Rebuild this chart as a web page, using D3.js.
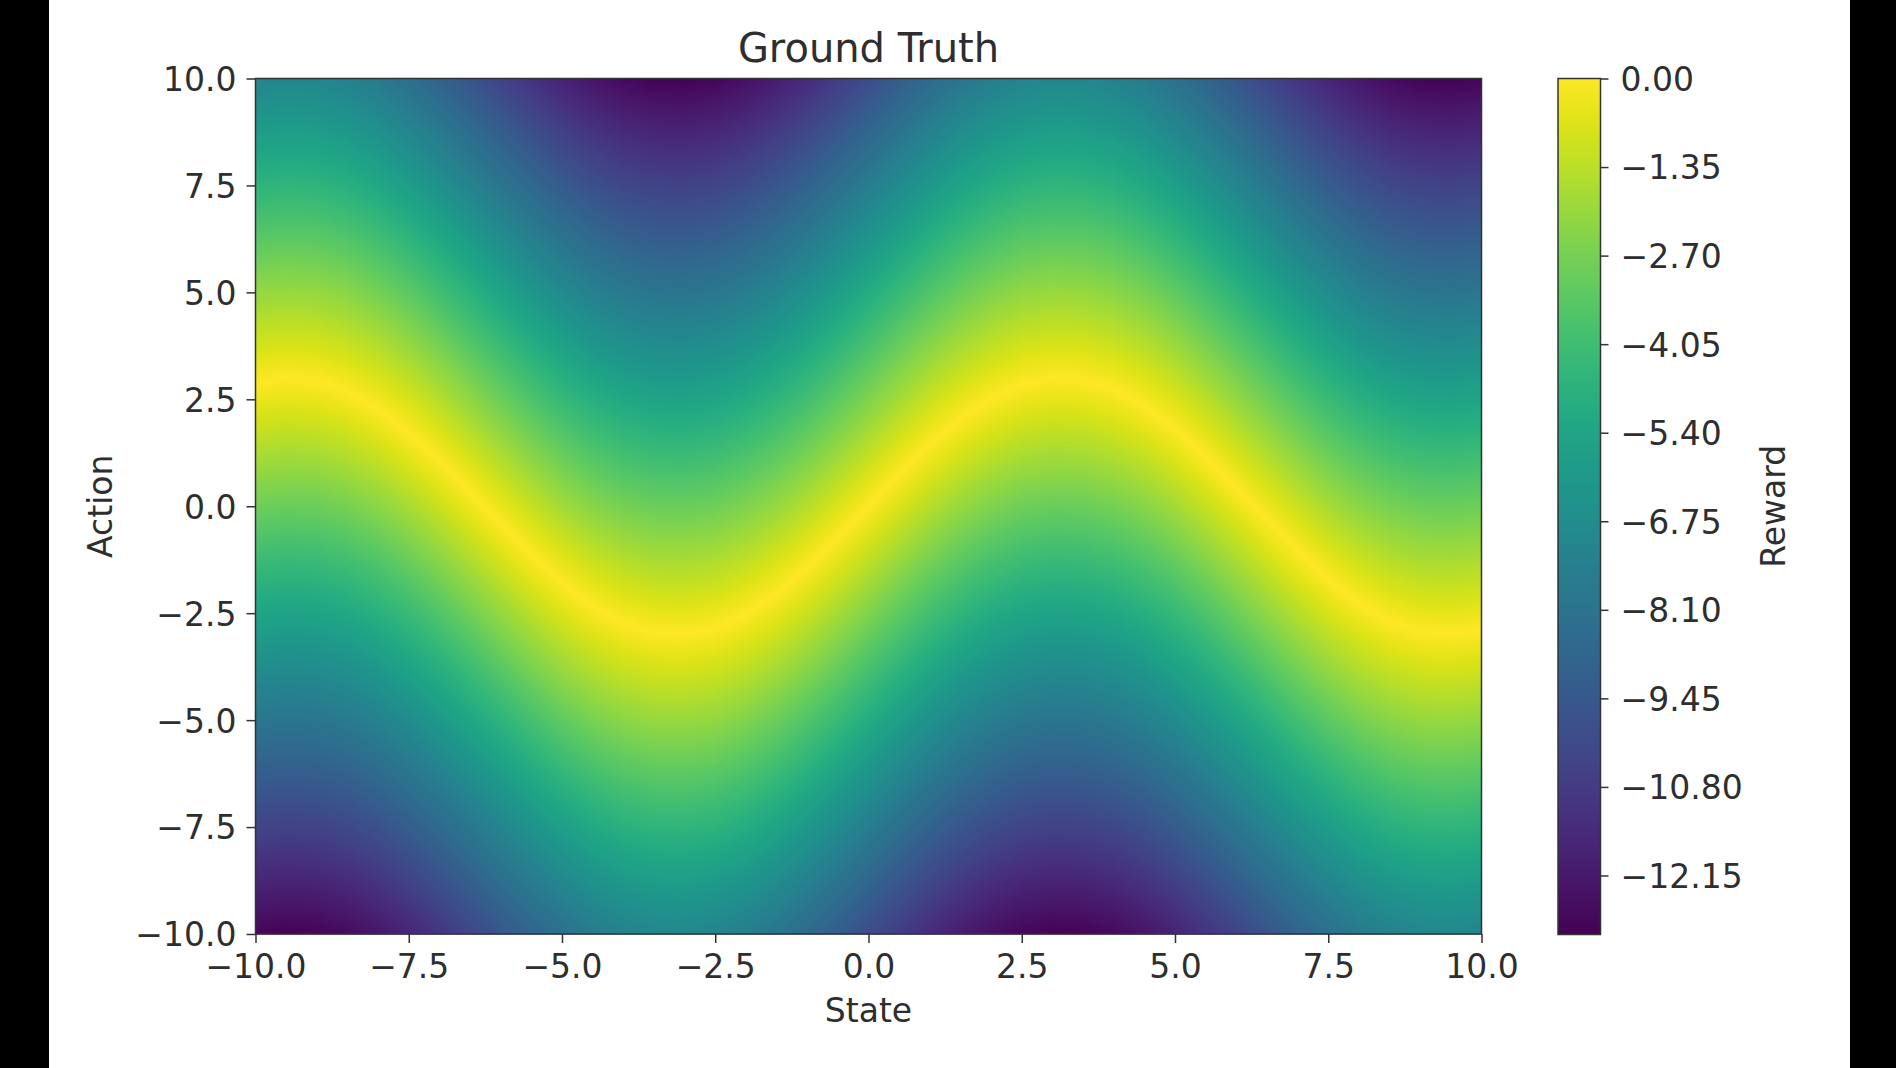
<!DOCTYPE html>
<html>
<head>
<meta charset="utf-8">
<script src="https://cdn.jsdelivr.net/npm/d3@7"></script>
<style>
  html, body { margin: 0; padding: 0; background: #000; }
  svg { display: block; }
  text { font-family: "DejaVu Sans", sans-serif; fill: #2e2e2e; }
</style>
</head>
<body>
<svg id="chart" width="1896" height="1068"></svg>
<script>
// ---- data ----
const title = "Ground Truth";
const xLabel = "State";
const yLabel = "Action";
const cbLabel = "Reward";
const xTicks = [-10, -7.5, -5, -2.5, 0, 2.5, 5, 7.5, 10];
const yTicks = [-10, -7.5, -5, -2.5, 0, 2.5, 5, 7.5, 10];
const cbTicks = [0, -1.35, -2.70, -4.05, -5.40, -6.75, -8.10, -9.45, -10.80, -12.15];
const rewardRange = [-13.05, 0];
// states sampled every 0.5 and the action of the best (yellow) ridge at each
const ridgeStates = [-10,-9.5,-9,-8.5,-8,-7.5,-7,-6.5,-6,-5.5,-5,-4.5,-4,-3.5,-3,-2.5,-2,-1.5,-1,-0.5,0,
                     0.5,1,1.5,2,2.5,3,3.5,4,4.5,5,5.5,6,6.5,7,7.5,8,8.5,9,9.5,10];
const ridgeActions = [2.88,2.99,2.93,2.69,2.27,1.71,1.05,0.32,-0.42,-1.14,-1.80,-2.34,-2.73,-2.95,-2.99,-2.85,-2.52,-2.04,-1.44,-0.74,0,
                      0.74,1.44,2.04,2.52,2.85,2.99,2.95,2.73,2.34,1.80,1.14,0.42,-0.32,-1.05,-1.71,-2.27,-2.69,-2.93,-2.99,-2.88];

// ---- layout ----
const W = 1896, H = 1068;
const plot = { x0: 255.5, x1: 1481.5, y0: 78.5, y1: 934 };
const cb = { x0: 1558, x1: 1600.5, y0: 78.5, y1: 934.5 };
const tickFont = 33;
const textColor = "#2e2e2e";

const svg = d3.select("#chart");
svg.append("rect").attr("x", 0).attr("y", 0).attr("width", W).attr("height", H).attr("fill", "#000");
svg.append("rect").attr("x", 49).attr("y", 0).attr("width", 1801).attr("height", H).attr("fill", "#fff");

const x = d3.scaleLinear().domain([-10, 10]).range([plot.x0, plot.x1]);
const y = d3.scaleLinear().domain([-10, 10]).range([plot.y1, plot.y0]);
const color = d3.scaleSequential(d3.interpolateViridis).domain(rewardRange);
const ridge = d3.scaleLinear().domain(ridgeStates).range(ridgeActions);

// ---- heatmap cells (one per pixel) ----
const pw = Math.round(plot.x1 - plot.x0), ph = Math.round(plot.y1 - plot.y0);
const canvas = document.createElement("canvas");
canvas.width = pw; canvas.height = ph;
const ctx = canvas.getContext("2d");
const img = ctx.createImageData(pw, ph);
for (let i = 0; i < pw; i++) {
  const s = x.invert(plot.x0 + i + 0.5);
  const r0 = ridge(s);
  for (let j = 0; j < ph; j++) {
    const a = y.invert(plot.y0 + j + 0.5);
    const v = -Math.abs(a - r0);
    const c = d3.rgb(color(v));
    const k = (j * pw + i) * 4;
    img.data[k] = c.r; img.data[k + 1] = c.g; img.data[k + 2] = c.b; img.data[k + 3] = 255;
  }
}
ctx.putImageData(img, 0, 0);
svg.append("image").attr("x", plot.x0).attr("y", plot.y0).attr("width", pw).attr("height", ph)
  .attr("preserveAspectRatio", "none").attr("href", canvas.toDataURL());

svg.append("rect").attr("x", plot.x0).attr("y", plot.y0).attr("width", plot.x1 - plot.x0).attr("height", plot.y1 - plot.y0)
  .attr("fill", "none").attr("stroke", "#333").attr("stroke-width", 1.5);

// ---- axes ----
const fmt1 = d3.format(".1f");
const minus = s => s.replace("-", "\u2212");
const xAxis = svg.append("g").attr("transform", `translate(0,${plot.y1})`)
  .call(d3.axisBottom(x).tickValues(xTicks).tickSize(9).tickPadding(12).tickFormat(d => minus(fmt1(d))));
const yAxis = svg.append("g").attr("transform", `translate(${plot.x0},0)`)
  .call(d3.axisLeft(y).tickValues(yTicks).tickSize(9).tickPadding(10).tickFormat(d => minus(fmt1(d))));
[xAxis, yAxis].forEach(g => {
  g.select(".domain").remove();
  g.selectAll(".tick line").attr("stroke", "#333").attr("stroke-width", 1.5);
  g.selectAll(".tick text").attr("font-size", tickFont).attr("fill", textColor)
    .style("font-family", "'DejaVu Sans', sans-serif");
});
yAxis.selectAll(".tick text").attr("dy", "0.36em");

// ---- colorbar ----
const cy = d3.scaleLinear().domain(rewardRange).range([cb.y1, cb.y0]);
const defs = svg.append("defs");
const grad = defs.append("linearGradient").attr("id", "cbgrad").attr("x1", 0).attr("y1", 1).attr("x2", 0).attr("y2", 0);
d3.range(0, 1.0001, 0.05).forEach(t => {
  grad.append("stop").attr("offset", t).attr("stop-color", color(rewardRange[0] + t * (rewardRange[1] - rewardRange[0])));
});
svg.append("rect").attr("x", cb.x0).attr("y", cb.y0).attr("width", cb.x1 - cb.x0).attr("height", cb.y1 - cb.y0)
  .attr("fill", "url(#cbgrad)").attr("stroke", "#333").attr("stroke-width", 1.5);
const cAxis = svg.append("g").attr("transform", `translate(${cb.x1},0)`)
  .call(d3.axisRight(cy).tickValues(cbTicks).tickSize(8).tickPadding(12).tickFormat(d => minus(d3.format(".2f")(d))));
cAxis.select(".domain").remove();
cAxis.selectAll(".tick line").attr("stroke", "#333").attr("stroke-width", 1.5);
cAxis.selectAll(".tick text").attr("font-size", tickFont).attr("fill", textColor).attr("dy", "0.36em")
  .style("font-family", "'DejaVu Sans', sans-serif");

// ---- labels ----
svg.append("text").attr("x", (plot.x0 + plot.x1) / 2).attr("y", 62).attr("text-anchor", "middle")
  .attr("font-size", 40).text(title);
svg.append("text").attr("x", (plot.x0 + plot.x1) / 2).attr("y", 1022).attr("text-anchor", "middle")
  .attr("font-size", tickFont).text(xLabel);
svg.append("text").attr("transform", `translate(112,${(plot.y0 + plot.y1) / 2}) rotate(-90)`).attr("text-anchor", "middle")
  .attr("font-size", tickFont).text(yLabel);
svg.append("text").attr("transform", `translate(1785,${(plot.y0 + plot.y1) / 2}) rotate(-90)`).attr("text-anchor", "middle")
  .attr("font-size", tickFont).text(cbLabel);
</script>
</body>
</html>
